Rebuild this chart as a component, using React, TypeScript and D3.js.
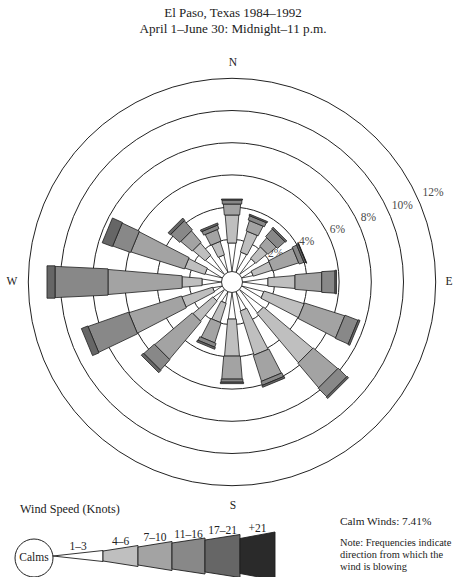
import React from 'react';
import * as d3 from 'd3';

// ---- data ----
const directions = ['N','NNE','NE','ENE','E','ESE','SE','SSE','S','SSW','SW','WSW','W','WNW','NW','NNW'];
const speedClasses = ['1–3','4–6','7–10','11–16','17–21','+21'];
const s1_3   = [1.77,1.27,1.21,0.71,1.58,1.40,1.83,1.21,1.65,0.71,0.84,0.59,1.21,1.09,1.46,1.09];
const s4_6   = [1.74,1.35,0.93,1.24,1.68,2.61,3.98,2.86,2.30,1.24,1.61,1.99,1.24,1.30,0.99,0.87];
const s7_10  = [0.68,0.67,0.68,1.68,1.66,2.61,1.99,1.68,1.43,1.30,3.04,3.42,4.60,3.48,0.93,0.75];
const s11_16 = [0.25,0.28,0.62,0.31,0.83,0.87,0.75,0.25,0.19,0.25,0.87,2.67,3.29,1.18,0.75,0.25];
const s17_21 = [0.06,0.09,0.12,0.12,0.09,0.12,0.12,0.12,0.09,0.12,0.19,0.43,0.50,0.68,0.19,0.12];
const s21p   = [0,0,0,0.03,0,0,0,0,0,0,0,0,0,0,0,0];
const seriesBySpeed = [s1_3, s4_6, s7_10, s11_16, s17_21, s21p];
const ringTicks = [2, 4, 6, 8, 10, 12];
const calmPct = 7.41;
const compass = ['N', 'E', 'S', 'W'];

const FILLS = ['#ffffff', '#bfbfbf', '#a3a3a3', '#888888', '#666666', '#2a2a2a'];
const FONT = "'Liberation Serif', 'Times New Roman', serif";

export default function App() {
  const W = 453, H = 577;
  const cx = 232, cy = 282;
  const r = d3.scaleLinear().domain([0, 12]).range([10.5, 203.7]);
  const ang = d3.scaleLinear().domain([0, directions.length]).range([0, 2 * Math.PI]);

  // half-width of a bar segment for speed class k at radius rr
  const hwFn = [
    (rr: number) => 0.1 * rr,
    (rr: number) => 0.8 + 0.09 * rr,
    (rr: number) => 2 + 0.085 * rr,
    (rr: number) => 5 + 0.06 * rr,
    (rr: number) => 6 + 0.055 * rr,
    (rr: number) => 7 + 0.055 * rr,
  ];

  const pt = (t: number, rr: number, w: number) => {
    const s = Math.sin(t), c = Math.cos(t);
    return [cx + rr * s + w * c, cy - rr * c + w * s];
  };

  const bars: JSX.Element[] = [];
  directions.forEach((d, i) => {
    const t = ang(i);
    let acc = 0;
    let prevOut = 0;
    seriesBySpeed.forEach((ser, k) => {
      const v = ser[i];
      if (v <= 0) return;
      const r0 = r(acc), r1 = r(acc + v);
      acc += v;
      let pts: number[][];
      if (k === 0) {
        const ho = hwFn[0](r1);
        pts = [pt(t, r0, 0), pt(t, r1, ho), pt(t, r1, -ho)];
        prevOut = ho;
      } else {
        const hi = Math.max(hwFn[k](r0), prevOut + 0.6);
        const ho = Math.max(hwFn[k](r1), hi);
        pts = [pt(t, r0, hi), pt(t, r1, ho), pt(t, r1, -ho), pt(t, r0, -hi)];
        prevOut = ho;
      }
      bars.push(
        <polygon key={d + k} points={pts.map(p => p.join(',')).join(' ')}
          fill={FILLS[k]} stroke="#1e1e1e" strokeWidth={0.8} strokeLinejoin="miter" />
      );
    });
  });

  // legend geometry
  const legCy = 556;
  const legX = [53, 103, 138, 172, 205, 240, 275];
  const legHin = [0, 5, 9, 13, 16, 17.5];
  const legHout = [5.5, 10.5, 14.5, 18, 21.5, 24];

  const compassPos: Record<string, [number, number]> = {
    N: [233, 63], E: [449, 282], S: [233, 506], W: [12, 282],
  };

  return (
    <svg width={W} height={H} viewBox={`0 0 ${W} ${H}`}
      style={{ position: 'absolute', left: 0, top: 0, background: '#fff' }}
      fontFamily={FONT}>
      <rect x={0} y={0} width={W} height={H} fill="#fff" />
      <text x={233} y={17} textAnchor="middle" fontSize={13} fill="#222">El Paso, Texas 1984–1992</text>
      <text x={233} y={33} textAnchor="middle" fontSize={13.2} fill="#222">April 1–June 30: Midnight–11 p.m.</text>

      {ringTicks.map(p => (
        <circle key={'ring' + p} cx={cx} cy={cy} r={r(p)} fill="none" stroke="#222" strokeWidth={1} />
      ))}
      {ringTicks.map(p => {
        const rr = r(p);
        return (
          <text key={'rl' + p} x={cx + 0.96 * rr - 5} y={cy - (0.379 * rr + 11)} dominantBaseline="middle"
            fontSize={11.5} fill="#4a4a4a">{p}%</text>
        );
      })}
      {bars}
      <circle cx={cx} cy={cy} r={r(0)} fill="#fff" stroke="#1e1e1e" strokeWidth={0.9} />

      {compass.map(c => (
        <text key={c} x={compassPos[c][0]} y={compassPos[c][1]} textAnchor="middle" dominantBaseline="middle"
          fontSize={11.5} fill="#222">{c}</text>
      ))}

      <text x={20} y={513} fontSize={12.2} fill="#222">Wind Speed (Knots)</text>
      <circle cx={34} cy={legCy + 2} r={19} fill="#fff" stroke="#222" strokeWidth={1} />
      <text x={34} y={legCy + 2} textAnchor="middle" dominantBaseline="middle" fontSize={11.5} fill="#222">Calms</text>
      {speedClasses.map((s, k) => {
        const x0 = legX[k], x1 = legX[k + 1];
        const pts = k === 0
          ? [[x0, legCy], [x1, legCy - legHout[k]], [x1, legCy + legHout[k]]]
          : [[x0, legCy - legHin[k]], [x1, legCy - legHout[k]], [x1, legCy + legHout[k]], [x0, legCy + legHin[k]]];
        const hmid = (legHin[k] + legHout[k]) / 2;
        return (
          <g key={'leg' + s}>
            <polygon points={pts.map(p => p.join(',')).join(' ')} fill={FILLS[k]} stroke="#1e1e1e" strokeWidth={0.9} />
            <text x={(x0 + x1) / 2} y={legCy - hmid - 3} textAnchor="middle" fontSize={11.5} fill="#222">{s}</text>
          </g>
        );
      })}

      <text x={340} y={525} fontSize={11.3} fill="#222">Calm Winds: {calmPct.toFixed(2)}%</text>
      <text x={340} y={546} fontSize={10.4} fill="#222">Note: Frequencies indicate</text>
      <text x={340} y={558} fontSize={10.4} fill="#222">direction from which the</text>
      <text x={340} y={570} fontSize={10.4} fill="#222">wind is blowing</text>
    </svg>
  );
}
